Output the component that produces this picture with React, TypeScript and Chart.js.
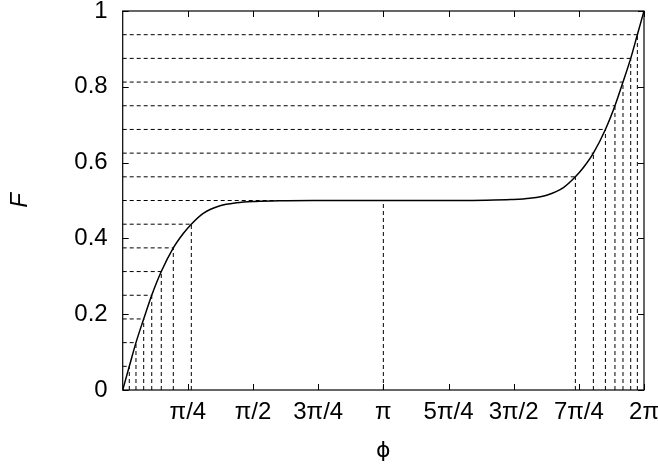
import React, { useEffect, useRef } from "react";
import { Chart, registerables } from "chart.js";

Chart.register(...registerables);

// Curve F(phi)
const curvePhi = [
  0, 0.0796, 0.16, 0.253, 0.35, 0.465, 0.61, 0.73, 0.827, 0.971, 1.173, 1.374, 1.6, 1.9, 2.3, 3.1416,
  3.98, 4.38, 4.68, 4.909, 5.11, 5.312, 5.456, 5.553, 5.673, 5.818, 5.933, 6.03, 6.123, 6.203, 6.2832,
];
const curveF = [
  0, 0.0625, 0.125, 0.1875, 0.25, 0.3125, 0.375, 0.413, 0.4375, 0.466, 0.486, 0.494, 0.4975, 0.4993, 0.4999, 0.5,
  0.5001, 0.5007, 0.5025, 0.506, 0.514, 0.534, 0.5625, 0.587, 0.625, 0.6875, 0.75, 0.8125, 0.875, 0.9375, 1,
];

// Dashed guide lines: levels k/16 and the phi where the curve reaches them
const guideLevels = [
  0.0625, 0.125, 0.1875, 0.25, 0.3125, 0.375, 0.4375, 0.5,
  0.5625, 0.625, 0.6875, 0.75, 0.8125, 0.875, 0.9375,
];
const guidePhi = [
  0.0796, 0.16, 0.253, 0.35, 0.465, 0.61, 0.827, 3.1416,
  5.456, 5.673, 5.818, 5.933, 6.03, 6.123, 6.203,
];

// Axis ticks
const xTickMultiples = [1, 2, 3, 4, 5, 6, 7, 8];
const xTickLabels = ["π/4", "π/2", "3π/4", "π", "5π/4", "3π/2", "7π/4", "2π"];
const yTickValues = [0, 0.2, 0.4, 0.6, 0.8, 1];
const yTickLabels = ["0", "0.2", "0.4", "0.6", "0.8", "1"];

const FONT = "'Liberation Sans', Arial, Helvetica, sans-serif";

const framePlugin = {
  id: "frameTicks",
  afterDraw(chart: any) {
    const { ctx, chartArea } = chart;
    const { left, right, top, bottom } = chartArea;
    const xs = chart.scales.x;
    const ys = chart.scales.y;
    const len = 6;
    ctx.save();
    ctx.strokeStyle = "#000";
    ctx.lineWidth = 1;
    ctx.setLineDash([]);
    ctx.beginPath();
    xTickMultiples.forEach((k) => {
      const px = Math.round(xs.getPixelForValue((k * Math.PI) / 4)) + 0.5;
      ctx.moveTo(px, bottom);
      ctx.lineTo(px, bottom - len);
      ctx.moveTo(px, top);
      ctx.lineTo(px, top + len);
    });
    yTickValues.forEach((v) => {
      const py = Math.round(ys.getPixelForValue(v)) + 0.5;
      ctx.moveTo(left, py);
      ctx.lineTo(left + len, py);
      ctx.moveTo(right, py);
      ctx.lineTo(right - len, py);
    });
    ctx.stroke();
    ctx.lineWidth = 1.2;
    ctx.strokeRect(left, top, right - left, bottom - top);
    ctx.restore();
  },
};

export default function App() {
  const ref = useRef<HTMLCanvasElement | null>(null);

  useEffect(() => {
    if (!ref.current) return;
    const dash = [4, 3];
    const guideSets: any[] = [];
    guideLevels.forEach((lv, i) => {
      guideSets.push({
        data: [
          { x: 0, y: lv },
          { x: guidePhi[i], y: lv },
        ],
        borderColor: "#000",
        borderWidth: 1,
        borderDash: dash,
        pointRadius: 0,
        tension: 0,
      });
      guideSets.push({
        data: [
          { x: guidePhi[i], y: 0 },
          { x: guidePhi[i], y: lv },
        ],
        borderColor: "#000",
        borderWidth: 1,
        borderDash: dash,
        pointRadius: 0,
        tension: 0,
      });
    });

    const chart = new Chart(ref.current, {
      type: "line",
      data: {
        datasets: [
          ...guideSets,
          {
            data: curvePhi.map((p, i) => ({ x: p, y: curveF[i] })),
            borderColor: "#000",
            borderWidth: 1.5,
            pointRadius: 0,
            cubicInterpolationMode: "monotone",
          },
        ],
      },
      options: {
        animation: false,
        responsive: false,
        devicePixelRatio: 1,
        layout: { padding: { left: 0, top: 11, right: 14, bottom: 0 } },
        plugins: { legend: { display: false }, tooltip: { enabled: false } },
        scales: {
          x: {
            type: "linear",
            min: 0,
            max: 2 * Math.PI,
            grid: { display: false, drawTicks: false },
            border: { display: false },
            afterBuildTicks: (scale: any) => {
              scale.ticks = xTickMultiples.map((k) => ({ value: (k * Math.PI) / 4 }));
            },
            afterFit: (scale: any) => {
              scale.height = 80;
              scale.paddingLeft = 0;
              scale.paddingRight = 0;
            },
            ticks: {
              autoSkip: false,
              maxRotation: 0,
              padding: 8,
              color: "#000",
              font: { family: FONT, size: 24 },
              callback: (_v: any, i: number) => xTickLabels[i],
            },
            title: {
              display: true,
              text: "ϕ",
              color: "#000",
              font: { family: "'DejaVu Sans', sans-serif", size: 22 },
              padding: { top: 0, bottom: 6 },
            },
          },
          y: {
            type: "linear",
            min: 0,
            max: 1,
            grid: { display: false, drawTicks: false },
            border: { display: false },
            afterBuildTicks: (scale: any) => {
              scale.ticks = yTickValues.map((v) => ({ value: v }));
            },
            afterFit: (scale: any) => {
              scale.width = 122.7;
              scale.paddingTop = 0;
              scale.paddingBottom = 0;
            },
            ticks: {
              padding: 15,
              color: "#000",
              font: { family: FONT, size: 24 },
              callback: (_v: any, i: number) => yTickLabels[i],
            },
            title: {
              display: true,
              text: "F",
              color: "#000",
              font: { family: FONT, size: 24, style: "italic" },
              padding: { top: 6, bottom: 0 },
            },
          },
        },
      },
      plugins: [framePlugin],
    });
    return () => chart.destroy();
  }, []);

  return (
    <div style={{ position: "fixed", left: 0, top: 0, width: 658, height: 470, background: "#fff" }}>
      <canvas ref={ref} width={658} height={470} style={{ width: 658, height: 470, display: "block" }} />
    </div>
  );
}
